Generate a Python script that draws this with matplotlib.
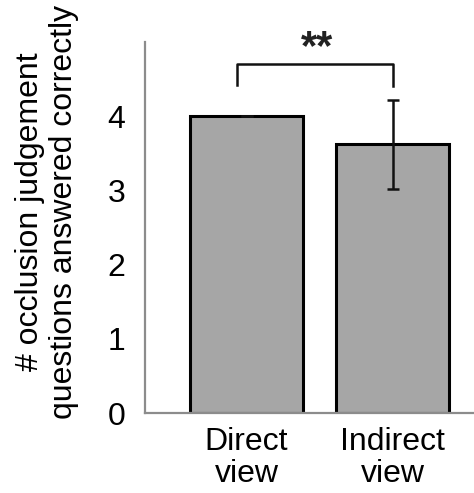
import matplotlib.pyplot as plt

# Mean number of occlusion questions answered correctly per condition
conditions = ['Direct\nview', 'Indirect\nview']
means = [4.0, 3.62]
errors = [0.0, 0.6]
significance = '**'

plt.rcParams['font.family'] = ['Liberation Sans', 'DejaVu Sans']

fig = plt.figure(figsize=(4.74, 4.93), dpi=100)
ax = fig.add_axes([0.306, 0.162, 0.694, 0.753])

x = range(len(conditions))
ax.bar(x, means, width=0.774, color='#a6a6a6', edgecolor='black', linewidth=2.2, zorder=2)
ax.errorbar(x, means, yerr=errors, fmt='none', ecolor='#111111', elinewidth=1.8,
            capsize=4.3, capthick=1.8, zorder=3)

# significance bracket between the two conditions
ax.plot([-0.065, -0.065, 1.0, 1.0], [4.42, 4.70, 4.70, 4.40], color='#111111',
        linewidth=1.8, clip_on=False)
ax.text(0.48, 4.92, significance, ha='center', va='center', fontsize=30,
        fontweight='bold', color='#222222')

ax.set_xlim(-0.695, 1.558)
ax.set_ylim(0, 5)
ax.set_yticks([0, 1, 2, 3, 4])
ax.set_xticks(list(x))
ax.set_xticklabels(conditions, fontsize=23, linespacing=1.1)
ax.tick_params(axis='y', length=0, pad=14, labelsize=23)
ax.tick_params(axis='x', length=0, pad=10)

for side in ['top', 'right']:
    ax.spines[side].set_visible(False)
for side in ['left', 'bottom']:
    ax.spines[side].set_color('#8c8c8c')
    ax.spines[side].set_linewidth(1.6)

fig.text(47 / 474, 1 - 212 / 493,
         '# occlusion judgement\nquestions answered correctly',
         rotation=90, ha='center', va='center', multialignment='center',
         fontsize=23, linespacing=1.2)

fig.savefig('out.png', dpi=100)
